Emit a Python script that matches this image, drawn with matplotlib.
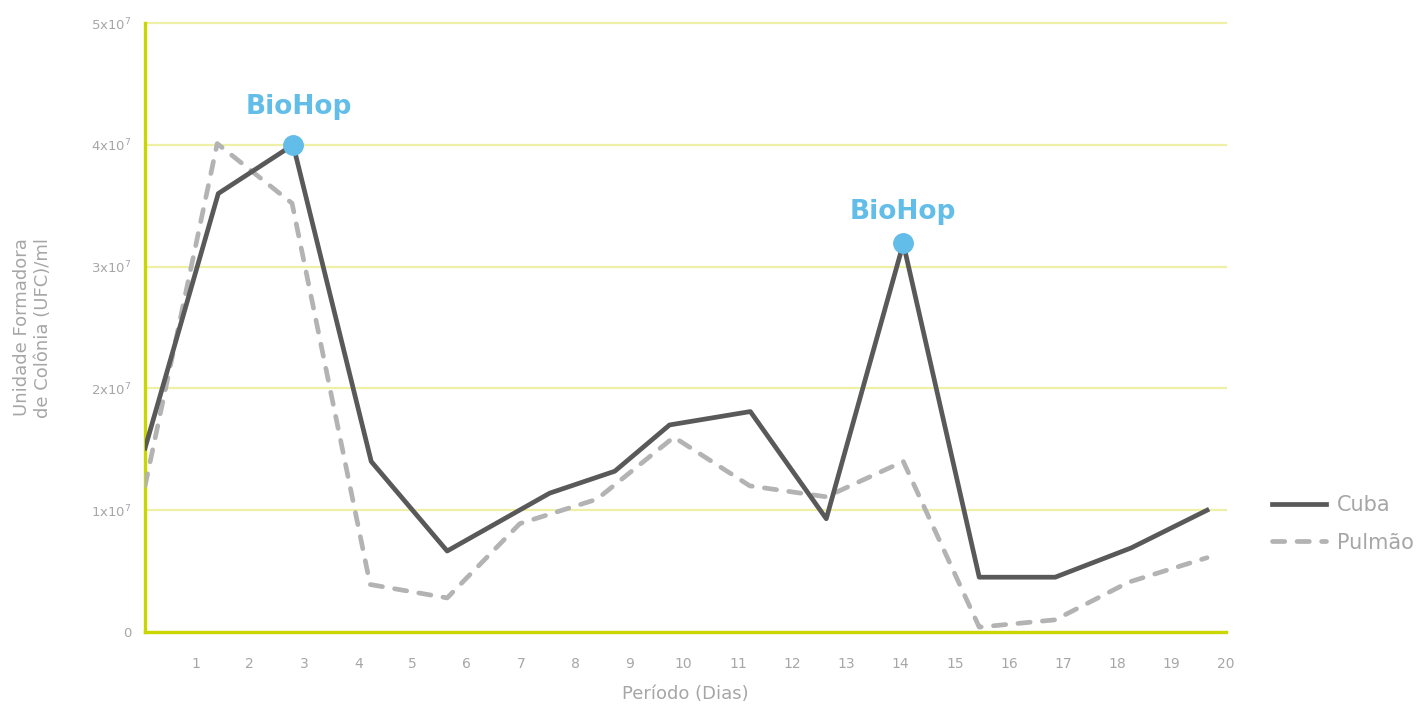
import matplotlib
matplotlib.use("Agg")
import matplotlib.pyplot as plt

# leituras aproximadas (UFC/ml)
cuba_dias = [0.07, 1.42, 2.80, 4.24, 5.64, 7.53, 8.73, 9.74, 11.23, 12.63, 14.05, 15.45, 16.85, 18.25, 19.65]
cuba_ufc = [1.51e7, 3.60e7, 4.00e7, 1.40e7, 0.665e7, 1.14e7, 1.32e7, 1.70e7, 1.81e7, 0.93e7, 3.19e7, 0.45e7, 0.45e7, 0.69e7, 1.00e7]

pulmao_dias = [0.07, 1.40, 2.78, 4.22, 5.64, 6.98, 8.40, 9.82, 11.22, 12.63, 14.05, 15.45, 16.85, 18.21, 19.65]
pulmao_ufc = [1.20e7, 4.01e7, 3.52e7, 0.39e7, 0.28e7, 0.89e7, 1.09e7, 1.60e7, 1.20e7, 1.11e7, 1.40e7, 0.04e7, 0.10e7, 0.41e7, 0.61e7]

biohop_idx = [2, 10]
biohop_offset = [(4, 27), (0, 23)]  # pontos

x_ticks = list(range(1, 21))
y_ticks = [0, 1e7, 2e7, 3e7, 4e7, 5e7]
y_labels = ['0', r'1x10$^7$', r'2x10$^7$', r'3x10$^7$', r'4x10$^7$', r'5x10$^7$']

cinza_txt = '#a6a6a6'
amarelo = '#c9d600'
azul = '#63bde9'

fig = plt.figure(figsize=(14.18, 7.06), dpi=100)
ax = fig.add_axes([0.1023, 0.1048, 0.7623, 0.8626])

ax.plot(cuba_dias, cuba_ufc, color='#595959', lw=3.4, label='Cuba', zorder=4)
ax.plot(pulmao_dias, pulmao_ufc, color='#b3b3b3', lw=3.4, ls=(0, (2.6, 2.6)),
        dash_capstyle='round', label='Pulmão', zorder=3)

for i, off in zip(biohop_idx, biohop_offset):
    ax.plot(cuba_dias[i], cuba_ufc[i], 'o', color=azul, ms=14, zorder=5)
    ax.annotate('BioHop', (cuba_dias[i], cuba_ufc[i]), xytext=off,
                textcoords='offset points', ha='center', va='center',
                color=azul, fontsize=19, fontweight='bold')

ax.set_xlim(0.07, 20)
ax.set_ylim(0, 5e7)
ax.set_xticks(x_ticks)
ax.set_xticklabels([str(t) for t in x_ticks])
ax.set_yticks(y_ticks)
ax.set_yticklabels(y_labels)

ax.grid(axis='y', color='#eef0a6', lw=1.6, zorder=0)
for gl in ax.get_ygridlines():
    gl.set_clip_on(False)
ax.set_axisbelow(True)
for s in ['top', 'right']:
    ax.spines[s].set_visible(False)
for s in ['left', 'bottom']:
    ax.spines[s].set_color(amarelo)
    ax.spines[s].set_linewidth(2.4)

ax.tick_params(axis='x', length=0, pad=18, labelsize=10, labelcolor=cinza_txt)
ax.tick_params(axis='y', length=0, pad=10, labelsize=9.5, labelcolor=cinza_txt)

ax.set_xlabel('Período (Dias)', color=cinza_txt, fontsize=13, labelpad=10)
ax.set_ylabel('Unidade Formadora\nde Colônia (UFC)/ml', color=cinza_txt, fontsize=13,
              labelpad=28)

leg = fig.legend(loc='center left', bbox_to_anchor=(0.884, 0.258), frameon=False,
                 fontsize=15, handlelength=2.6, labelspacing=0.84, handletextpad=0.5)
for t in leg.get_texts():
    t.set_color(cinza_txt)

fig.savefig('out.png', dpi=100)
